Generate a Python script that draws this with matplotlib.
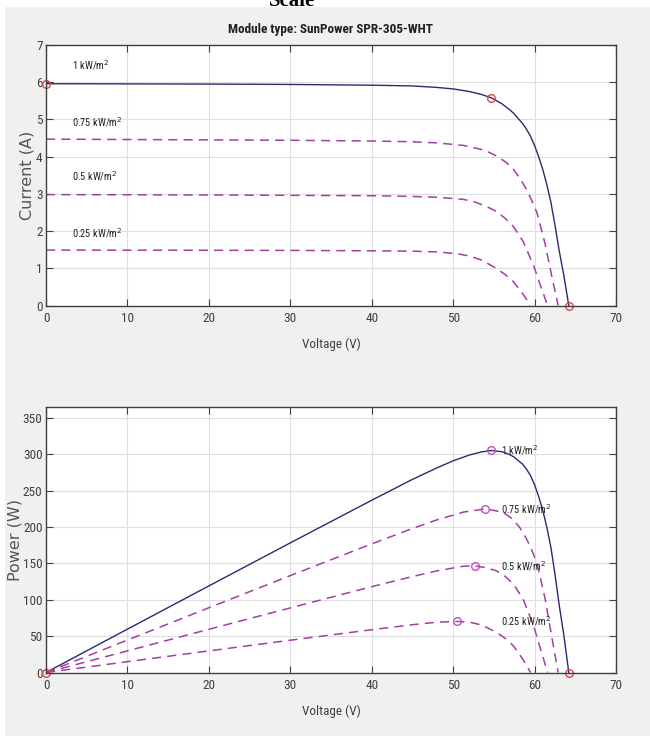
import matplotlib
matplotlib.use("Agg")
import matplotlib.pyplot as plt
from matplotlib import font_manager
from matplotlib.font_manager import FontProperties
from matplotlib.patches import Rectangle

# ----- values -----
irr_labels = ["1 kW/m$^2$", "0.75 kW/m$^2$", "0.5 kW/m$^2$", "0.25 kW/m$^2$"]

v_100 = [0, 10, 20, 30, 40, 45, 48, 50, 52, 53.5, 54.7, 56, 57, 57.5, 58, 58.5, 59, 59.5, 60, 60.5,
         61, 61.5, 62, 62.5, 63, 63.6, 64.2]
i_100 = [5.96, 5.955, 5.95, 5.94, 5.92, 5.90, 5.86, 5.82, 5.75, 5.67, 5.58, 5.42, 5.25, 5.15, 5.02,
         4.90, 4.74, 4.55, 4.30, 4.00, 3.66, 3.25, 2.78, 2.17, 1.50, 0.80, 0]
p_100 = [0, 59.6, 119, 178.2, 236.8, 265.5, 281.3, 291, 299, 303.3, 305.2, 303.5, 299.3, 296.1, 291.2,
         286.7, 279.7, 270.7, 258, 242, 223.3, 199.9, 172.4, 135.6, 94.5, 50.9, 0]

v_075 = [0, 10, 20, 30, 40, 45, 48, 51.3, 53.9, 55.3, 56.5, 57.4, 58.2, 59.0, 59.7, 60.3, 61.3, 62.1, 62.9]
i_075 = [4.47, 4.46, 4.45, 4.44, 4.42, 4.40, 4.37, 4.30, 4.17, 4.02, 3.85, 3.66, 3.42, 3.12, 2.80,
         2.49, 1.65, 0.80, 0]
p_075 = [0, 44.6, 89, 133.2, 176.8, 198, 209.8, 220.6, 224.8, 222.3, 217.5, 210.1, 199, 184.1, 167.2,
         150.1, 101.1, 49.7, 0]

v_050 = [0, 10, 20, 30, 40, 45, 48, 51.3, 52.7, 54, 55.3, 56.4, 57.4, 58.6, 59.9, 60.7, 61.6]
i_050 = [2.98, 2.975, 2.97, 2.96, 2.95, 2.93, 2.91, 2.85, 2.78, 2.67, 2.53, 2.34, 2.12, 1.72, 1.06, 0.55, 0]
p_050 = [0, 29.75, 59.4, 88.8, 118, 131.9, 139.7, 146.2, 146.5, 144.2, 139.9, 132, 121.7, 100.8, 63.5,
         33.4, 0]

v_025 = [0, 10, 20, 30, 40, 45, 48, 50.5, 52, 53.5, 55.3, 56.4, 57.4, 58.6, 59.5]
i_025 = [1.49, 1.487, 1.484, 1.48, 1.47, 1.46, 1.44, 1.39, 1.33, 1.22, 1.00, 0.83, 0.64, 0.30, 0]
p_025 = [0, 14.87, 29.7, 44.4, 58.8, 65.7, 69.1, 70.2, 69.2, 65.3, 55.3, 46.8, 36.7, 17.6, 0]

# special points (short circuit, max power, open circuit)
isc_1 = 5.96
vmp_1, imp_1 = 54.7, 5.58
voc_1 = 64.2
vmp_all = [54.7, 53.9, 52.7, 50.5]
pmp_all = [305.2, 224.8, 146.5, 70.2]

x_ticks = [0, 10, 20, 30, 40, 50, 60, 70]
i_ticks = [0, 1, 2, 3, 4, 5, 6, 7]
p_ticks = [0, 50, 100, 150, 200, 250, 300, 350]


# ----- pick a narrow font if one is installed -----
def find_narrow():
    pref = ["Liberation Sans Narrow", "Roboto Condensed", "Open Sans Condensed", "DejaVu Sans"]
    found = []
    for f in font_manager.fontManager.ttflist:
        narrowish = ("Narrow" in f.name or "Condensed" in f.name
                     or f.stretch in ("condensed", "semi-condensed", "extra-condensed", 500, 600, 700))
        if narrowish and f.style == "normal":
            found.append((f.name, f.stretch))
    for p in pref:
        for name, st in found:
            if name == p:
                return name, st, True
    if found:
        return found[0][0], found[0][1], True
    return "Liberation Sans", "normal", False


nar_name, nar_stretch, got_narrow = find_narrow()
nscale = 1.0 if got_narrow else 0.88


def nfont(size, weight="normal"):
    return FontProperties(family=[nar_name, "DejaVu Sans"], stretch=nar_stretch,
                          size=size * nscale, weight=weight)


# ----- style -----
solid_col = "#2a2a72"
dash_col = "#a040a0"
dash = (0, (6, 4))
txt_col = "#404040"

W, H = 650, 736
fig = plt.figure(figsize=(W / 100, H / 100), dpi=100)
fig.patch.set_facecolor("white")
fig.patches.append(Rectangle((5 / W, 0), 1, (H - 7) / H, transform=fig.transFigure,
                             facecolor="#f0f0f0", edgecolor="none", zorder=-10))
fig.text(292 / W, (H - 6) / H, "Scale", family=["Liberation Serif", "DejaVu Serif"],
         weight="bold", fontsize=15, ha="center", va="baseline", zorder=-20)


def style_axes(ax, yticks, ylim, ylabel, ylab_x):
    ax.set_facecolor("white")
    ax.set_xlim(0, 70)
    ax.set_ylim(*ylim)
    ax.set_xticks(x_ticks)
    ax.set_yticks(yticks)
    ax.grid(True, color="#dedede", lw=0.8)
    ax.set_axisbelow(True)
    ax.tick_params(direction="in", length=5, top=True, right=True, colors=txt_col)
    ax.tick_params(axis="y", pad=2.5)
    ax.tick_params(axis="x", pad=5)
    for lab in ax.get_xticklabels() + ax.get_yticklabels():
        lab.set_fontproperties(nfont(9.5))
    for s in ax.spines.values():
        s.set_color("#404040")
        s.set_linewidth(1.0)
    ax.set_xlabel("Voltage (V)", fontproperties=nfont(9.5), color=txt_col, labelpad=9)
    ax.set_ylabel(ylabel, fontsize=11.5, color="#555555", va="center")
    ax.yaxis.set_label_coords(ylab_x, 0.5)


# ----- I-V plot -----
ax1 = fig.add_axes([46 / W, (H - 305.5) / H, 570 / W, 260.5 / H])
style_axes(ax1, i_ticks, (0, 7), "Current (A)", -0.033)
ax1.plot(v_100, i_100, color=solid_col, lw=1.0)
for v, i in [(v_075, i_075), (v_050, i_050), (v_025, i_025)]:
    ax1.plot(v, i, color=dash_col, lw=1.1, linestyle=dash)
ax1.plot([0, vmp_1, voc_1], [isc_1, imp_1, 0], "o", mfc="none", mec="#e04848",
         ms=5.5, mew=1.0, clip_on=False)
for lab, y in zip(irr_labels, [6.45, 4.92, 3.47, 1.95]):
    ax1.text(3.2, y, lab, fontproperties=nfont(7.5), color="#202020", va="center")
ax1.set_title("Module type: SunPower SPR-305-WHT", fontproperties=nfont(9.5, "bold"),
              color="#202020", pad=9)

# ----- P-V plot -----
ax2 = fig.add_axes([46 / W, (H - 672.5) / H, 570 / W, 265.5 / H])
style_axes(ax2, p_ticks, (0, 365), "Power (W)", -0.055)
ax2.plot(v_100, p_100, color=solid_col, lw=1.0)
for v, p in [(v_075, p_075), (v_050, p_050), (v_025, p_025)]:
    ax2.plot(v, p, color=dash_col, lw=1.1, linestyle=dash)
ax2.plot(vmp_all, pmp_all, "o", mfc="none", mec="#c050c0", ms=5.5, mew=1.0)
ax2.plot([0, voc_1], [0, 0], "o", mfc="none", mec="#e04848", ms=5.5, mew=1.0, clip_on=False)
for lab, p in zip(irr_labels, pmp_all):
    ax2.text(55.9, p, lab, fontproperties=nfont(7.5), color="#202020", va="center")

fig.savefig("out.png", dpi=100)
